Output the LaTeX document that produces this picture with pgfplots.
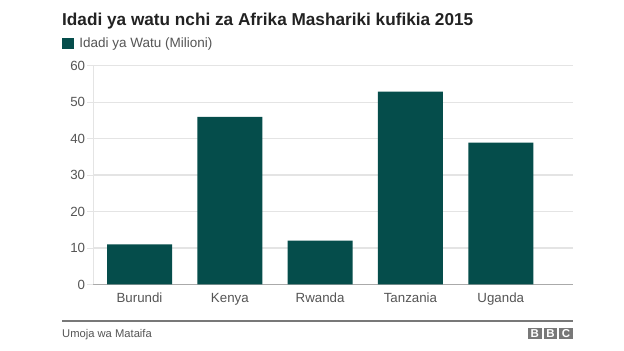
\documentclass[border=0pt]{standalone}
\usepackage{pgfplots}
\pgfplotsset{compat=1.18}
\usepackage{fontspec}
\setmainfont{Liberation Sans}
\definecolor{barc}{RGB}{5,77,75}
\definecolor{gridc}{RGB}{228,228,228}
\definecolor{labc}{RGB}{85,85,85}
\definecolor{basec}{RGB}{170,170,170}
\definecolor{bbcgray}{RGB}{120,120,120}
\definecolor{titlec}{RGB}{34,34,34}
\begin{document}
\begin{tikzpicture}
\path[use as bounding box, fill=white] (0,0) rectangle (624bp,351bp);
\begin{axis}[
  at={(93.3bp,66.5bp)}, anchor=south west,
  width=479.7bp, height=218.8bp, scale only axis,
  xmin=-0.512, xmax=4.80, ymin=0, ymax=60,
  enlargelimits=false,
  ybar, bar width=65bp,
  xtick=data,
  xticklabels={Burundi,Kenya,Rwanda,Tanzania,Uganda},
  ytick={0,10,20,30,40,50,60},
  axis x line*=bottom, axis y line*=left,
  x axis line style={basec, line width=1bp},
  y axis line style={gridc, line width=1bp},
  ymajorgrids, grid style={gridc, line width=1.2bp},
  tick align=outside, major tick length=6bp,
  xtick style={draw=none},
  ytick style={gridc, line width=1bp},
  /pgf/number format/assume math mode=true,
  tick label style={font=\fontsize{13.3bp}{15bp}\selectfont, text=labc},
  yticklabel style={inner sep=0pt, xshift=-2bp},
  xticklabel style={inner sep=0pt, yshift=-2.5bp},
  legend style={at={(-0.0652,1.1015)}, anchor=west, draw=none, fill=none,
    inner sep=0pt, outer sep=0pt, nodes={inner sep=0pt, text=labc},
    font=\fontsize{13.5bp}{15bp}\selectfont, legend cell align=left},
  legend image code/.code={\fill[barc] (0bp,-5.5bp) rectangle (12bp,5.5bp); \path (17.3bp,0bp);},
]
\addplot[fill=barc, draw=none] coordinates {(0,11.0) (1,46.0) (2,12.0) (3,52.9) (4,38.9)};
\addlegendentry{Idadi ya Watu (Milioni)}
\end{axis}
\node[anchor=base west, inner sep=0pt, text=titlec, font=\fontsize{17.2bp}{20bp}\selectfont\bfseries] at (62bp,325bp) {Idadi ya watu nchi za Afrika Mashariki kufikia 2015};
\draw[bbcgray, line width=1.5bp] (62bp,30bp) -- (573bp,30bp);
\node[anchor=base west, inner sep=0pt, text=labc, font=\fontsize{11.2bp}{13bp}\selectfont] at (62bp,13.3bp) {Umoja wa Mataifa};
\foreach \i/\l in {0/B,1/B,2/C}{
  \fill[bbcgray] ({528bp+\i*15.6bp},11.7bp) rectangle ({541.7bp+\i*15.6bp},23.3bp);
  \node[text=white, font=\fontsize{11.5bp}{11.5bp}\selectfont\bfseries, inner sep=0pt] at ({534.85bp+\i*15.6bp},17.5bp) {\l};
}
\end{tikzpicture}
\end{document}
